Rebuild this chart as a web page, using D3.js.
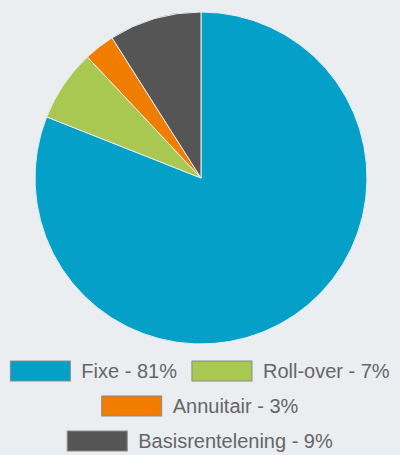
<!DOCTYPE html>
<html>
<head>
<meta charset="utf-8">
<script src="https://cdn.jsdelivr.net/npm/d3@7"></script>
<style>
  html, body { margin: 0; padding: 0; background: #eaeef0; }
  svg { display: block; }
</style>
</head>
<body>
<svg id="chart"></svg>
<script>
const labels = ["Fixe", "Roll-over", "Annuitair", "Basisrentelening"];
const values = [81, 7, 3, 9];
const colors = ["#04a0c8", "#a8c852", "#f07d00", "#555555"];

const width = 400, height = 455;
const cx = 201, cy = 178, radius = 166;

const svg = d3.select("#chart").attr("width", width).attr("height", height);

const data = labels.map((l, i) => ({ label: l, value: values[i], color: colors[i] }));

const pie = d3.pie().value(d => d.value).sort(null);
const arc = d3.arc().innerRadius(0).outerRadius(radius);

svg.append("g")
    .attr("transform", `translate(${cx},${cy})`)
    .selectAll("path")
    .data(pie(data))
    .join("path")
    .attr("d", arc)
    .attr("fill", d => d.data.color)
    .attr("stroke", "#e8eef0")
    .attr("stroke-width", 1);

// legend, centred rows that wrap
const swW = 60, swH = 20, gap = 11, itemGap = 15, rowH = 35, firstRow = 361;
const legend = svg.append("g");
const items = legend.selectAll("g")
    .data(data)
    .join("g");
items.append("rect")
    .attr("width", swW).attr("height", swH)
    .attr("fill", d => d.color)
    .attr("stroke", "#8a8a8a").attr("stroke-width", 1);
items.append("text")
    .attr("x", swW + gap).attr("y", swH / 2)
    .attr("dy", "0.35em")
    .attr("font-family", "Liberation Sans, Arial, sans-serif")
    .attr("font-size", 20)
    .attr("fill", "#666")
    .text(d => `${d.label} - ${d.value}%`);

const widths = [];
items.each(function() {
    widths.push(swW + gap + d3.select(this).select("text").node().getComputedTextLength());
});
const rows = [];
let cur = [], curW = 0;
widths.forEach((w, i) => {
    const add = cur.length ? itemGap + w : w;
    if (cur.length && curW + add > width - 6) {
        rows.push({ idx: cur, w: curW });
        cur = [i]; curW = w;
    } else { cur.push(i); curW += add; }
});
rows.push({ idx: cur, w: curW });
rows.forEach((r, ri) => {
    let x = (width - r.w) / 2;
    r.idx.forEach(i => {
        d3.select(items.nodes()[i]).attr("transform", `translate(${x},${firstRow + ri * rowH})`);
        x += widths[i] + itemGap;
    });
});
</script>
</body>
</html>
